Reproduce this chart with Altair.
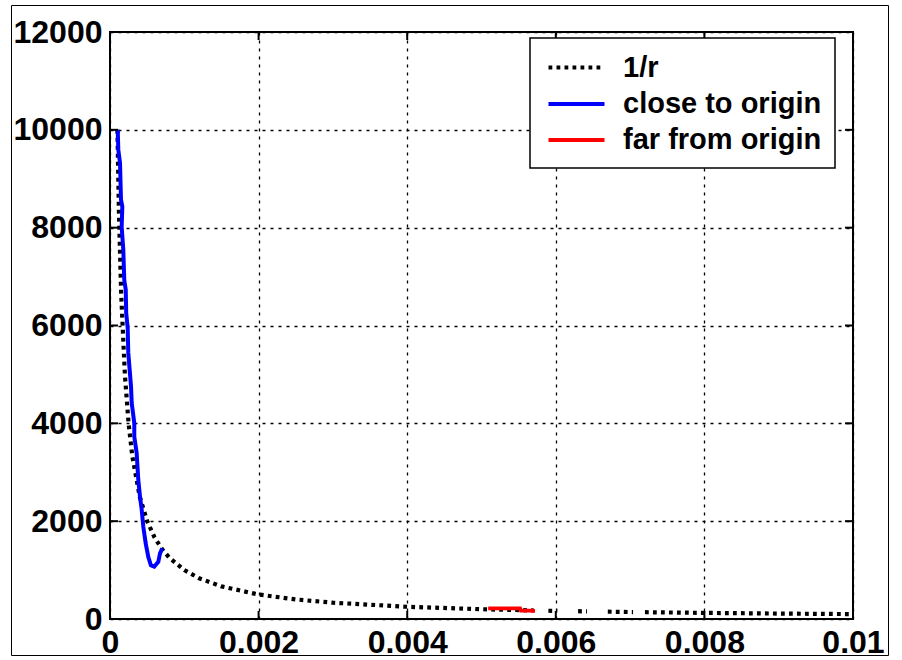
import altair as alt
import pandas as pd

series_names = ["1/r", "close to origin", "far from origin"]
series_colors = ["#000000", "#0000ff", "#ff0000"]

# 1/r reference curve (segment ids mark where the dotted line breaks)
inv_x = [0.0001, 0.00012, 0.00015, 0.0002, 0.00025, 0.0003, 0.0004, 0.0005, 0.0006,
         0.0007, 0.0008, 0.001, 0.0012, 0.0015, 0.002, 0.0025, 0.003, 0.004, 0.005,
         0.0057, 0.0059, 0.00602, 0.0063, 0.00642, 0.0067, 0.00704, 0.0072, 0.008,
         0.009, 0.01]
inv_y = [10000, 8333, 6667, 5000, 4000, 3333, 2500, 2000, 1667, 1429, 1250, 1000, 833,
         667, 500, 400, 333, 250, 200, 175, 169, 166, 159, 156, 149, 142, 139, 125, 111, 100]
inv_seg = [0] * 20 + [1, 1, 2, 2, 3, 3] + [4] * 4

# close to origin (blue)
close_x = [0.000104, 0.000112, 0.000135, 0.000148, 0.000166, 0.000157, 0.000179,
           0.000192, 0.000212, 0.000218, 0.000238, 0.000246, 0.000283, 0.000292,
           0.000327, 0.000327, 0.000359, 0.000381, 0.000404, 0.000427, 0.000448,
           0.00048, 0.000515, 0.00055, 0.000596, 0.00065, 0.000673, 0.000704]
close_y = [10000, 9590, 9320, 8570, 8430, 8020, 7550, 6930, 6730, 6260, 5950, 5440,
           4750, 4420, 4000, 3730, 3390, 2840, 2500, 2230, 1890, 1550, 1270, 1100,
           1070, 1170, 1340, 1445]

# far from origin (red)
far_x = [0.00509, 0.00552, 0.00553, 0.00572]
far_y = [219, 215, 172, 168]

x_ticks = [0, 0.002, 0.004, 0.006, 0.008, 0.01]
y_ticks = [0, 2000, 4000, 6000, 8000, 10000, 12000]

rows = []
for i, (a, b, s) in enumerate(zip(inv_x, inv_y, inv_seg)):
    rows.append({"series": series_names[0], "x": a, "y": b, "seg": "a%d" % s, "idx": i})
for i, (a, b) in enumerate(zip(close_x, close_y)):
    rows.append({"series": series_names[1], "x": a, "y": b, "seg": "b", "idx": i})
for i, (a, b) in enumerate(zip(far_x, far_y)):
    rows.append({"series": series_names[2], "x": a, "y": b, "seg": "c", "idx": i})
df = pd.DataFrame(rows)

W, H = 743, 587
FONT = "Liberation Sans"

xscale = alt.Scale(domain=[0, 0.01], nice=False, zero=False)
yscale = alt.Scale(domain=[0, 12000], nice=False)

axis_common = dict(
    title=None, domain=False, ticks=False,
    grid=True, gridColor="black", gridDash=[3, 5], gridWidth=1.3,
    labelFontSize=32, labelFont=FONT, labelFontWeight="bold", labelColor="black",
    labelPadding=8, labelFlush=False, labelOverlap=False)

lines = alt.Chart(df).mark_line(strokeCap="butt", clip=True).encode(
    x=alt.X("x:Q", scale=xscale, axis=alt.Axis(values=x_ticks, format="~g", **axis_common)),
    y=alt.Y("y:Q", scale=yscale, axis=alt.Axis(values=y_ticks, format="d", **axis_common)),
    color=alt.Color("series:N", scale=alt.Scale(domain=series_names, range=series_colors),
                    legend=alt.Legend(
                        title=None, orient="none", legendX=420, legendY=6,
                        fillColor="white", strokeColor="black", padding=13,
                        labelFontSize=29, labelFont=FONT, labelFontWeight="bold",
                        labelColor="black", symbolType="M-2,0H2", symbolSize=784,
                        symbolStrokeWidth=3.5, symbolOffset=17, labelOffset=30,
                        rowPadding=5, labelLimit=400)),
    strokeDash=alt.StrokeDash("series:N", scale=alt.Scale(
        domain=series_names, range=[[3.8, 4.2], [1, 0], [1, 0]])),
    strokeWidth=alt.StrokeWidth("series:N", scale=alt.Scale(
        domain=series_names, range=[4.2, 3.8, 3.6]), legend=None),
    detail="seg:N",
    order="idx:Q",
)

xt_df = pd.DataFrame({"t": x_ticks})
yt_df = pd.DataFrame({"t": y_ticks})
tick_style = dict(color="black", strokeWidth=2)
xt_bottom = alt.Chart(xt_df).mark_rule(**tick_style).encode(
    x=alt.X("t:Q", scale=xscale), y=alt.value(H), y2=alt.value(H - 8))
xt_top = alt.Chart(xt_df).mark_rule(**tick_style).encode(
    x=alt.X("t:Q", scale=xscale), y=alt.value(0), y2=alt.value(8))
yt_left = alt.Chart(yt_df).mark_rule(**tick_style).encode(
    y=alt.Y("t:Q", scale=yscale), x=alt.value(0), x2=alt.value(8))
yt_right = alt.Chart(yt_df).mark_rule(**tick_style).encode(
    y=alt.Y("t:Q", scale=yscale), x=alt.value(W), x2=alt.value(W - 8))

frame = alt.Chart(pd.DataFrame({"a": [0]})).mark_rect(
    fillOpacity=0, stroke="black", strokeWidth=1, clip=False).encode(
    x=alt.value(-98.5), x2=alt.value(778.5), y=alt.value(-26.5), y2=alt.value(623.5))

chart = alt.layer(lines, xt_bottom, xt_top, yt_left, yt_right, frame).properties(
    width=W, height=H,
    padding={"left": 110, "top": 32, "right": 49, "bottom": 41},
    autosize=alt.AutoSizeParams(type="none"),
    background="white",
).configure_view(stroke="black", strokeWidth=2).configure_legend(strokeWidth=1.5)

chart.save("out.html", embed_options={"renderer": "svg", "actions": False})
